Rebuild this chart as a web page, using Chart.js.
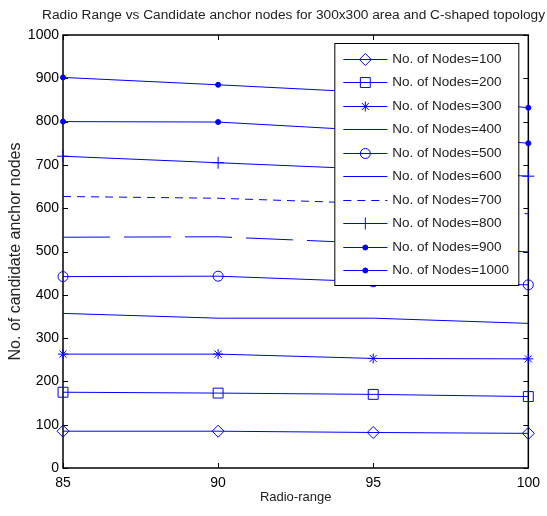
<!DOCTYPE html>
<html>
<head>
<meta charset="utf-8">
<script src="https://cdn.jsdelivr.net/npm/chart.js@4.4.1/dist/chart.umd.min.js"></script>
<style>
  html, body { margin: 0; padding: 0; background: #fff; }
</style>
</head>
<body>
<canvas id="rangeChart" width="547" height="516"></canvas>
<script>
// data
const radioRange = [85, 90, 95, 100];
const nodes100 = [85, 85, 82, 80];
const nodes200 = [175, 173, 170, 165];
const nodes300 = [263, 263, 253, 252];
const nodes400 = [357, 346, 346, 334];
const nodes500 = [442, 443, 430, 423];
const nodes600 = [533, 534, 519, 499];
const nodes700 = [627, 623, 611, 587];
const nodes800 = [720, 705, 690, 674];
const nodes900 = [800, 799, 779, 750];
const nodes1000 = [902, 885, 867, 832];
const xTicks = [85, 90, 95, 100];
const yTicks = [0, 100, 200, 300, 400, 500, 600, 700, 800, 900, 1000];

const BLUE = '#0000ff';
Chart.defaults.font.family = "'Liberation Sans', Arial, sans-serif";
Chart.defaults.color = '#000';

function series(label, values, marker) {
    return Object.assign({
        label: label,
        data: radioRange.map((x, i) => ({ x: x, y: values[i] })),
        borderColor: BLUE,
        borderWidth: 1,
        pointBorderColor: BLUE,
        pointBackgroundColor: 'rgba(0,0,0,0)',
        pointBorderWidth: 1,
        pointRadius: 0,
        pointHoverRadius: 0,
        tension: 0,
        clip: false
    }, marker);
}

const datasets = [
    series('No. of Nodes=100', nodes100, { pointStyle: 'rectRot', pointRadius: 6 }),
    series('No. of Nodes=200', nodes200, { pointStyle: 'rect', pointRadius: 7 }),
    series('No. of Nodes=300', nodes300, { pointStyle: 'star', pointRadius: 5 }),
    series('No. of Nodes=400', nodes400, {}),
    series('No. of Nodes=500', nodes500, { pointStyle: 'circle', pointRadius: 5 }),
    series('No. of Nodes=600', nodes600, { borderDash: [47, 14] }),
    series('No. of Nodes=700', nodes700, { borderDash: [8, 6] }),
    series('No. of Nodes=800', nodes800, { pointStyle: 'cross', pointRadius: 6 }),
    series('No. of Nodes=900', nodes900, { pointStyle: 'circle', pointRadius: 2.5, pointBackgroundColor: BLUE }),
    series('No. of Nodes=1000', nodes1000, { pointStyle: 'circle', pointRadius: 2.5, pointBackgroundColor: BLUE })
];

// box round the plot, inward ticks, and the legend inside the plot
const matlabFrame = {
    id: 'matlabFrame',
    beforeDatasetsDraw(chart) {
        const { ctx, chartArea: a, scales } = chart;
        ctx.save();
        ctx.strokeStyle = '#000';
        ctx.lineWidth = 1;
        ctx.beginPath();
        xTicks.forEach(v => {
            const px = Math.round(scales.x.getPixelForValue(v)) + 0.5;
            ctx.moveTo(px, a.bottom); ctx.lineTo(px, a.bottom - 5);
            ctx.moveTo(px, a.top); ctx.lineTo(px, a.top + 5);
        });
        yTicks.forEach(v => {
            const py = Math.round(scales.y.getPixelForValue(v)) + 0.5;
            ctx.moveTo(a.left, py); ctx.lineTo(a.left + 5, py);
            ctx.moveTo(a.right, py); ctx.lineTo(a.right - 5, py);
        });
        ctx.stroke();
        ctx.lineWidth = 1.5;
        ctx.strokeRect(a.left, a.top, a.right - a.left, a.bottom - a.top);
        ctx.restore();
    },
    afterDraw(chart) {
        const { ctx, chartArea: a } = chart;
        const w = 184, h = 242;
        const lx = a.right - 10 - w, ly = a.top + 8;
        ctx.save();
        ctx.fillStyle = '#fff';
        ctx.fillRect(lx, ly, w, h);
        ctx.strokeStyle = '#000';
        ctx.lineWidth = 1;
        ctx.strokeRect(lx + 0.5, ly + 0.5, w, h);
        chart.data.datasets.forEach((ds, i) => {
            const y = Math.round(ly + 15.5 + i * 23.5) + 0.5;
            ctx.strokeStyle = ds.borderColor;
            ctx.lineWidth = 1;
            ctx.setLineDash(ds.borderDash || []);
            ctx.beginPath();
            ctx.moveTo(lx + 9, y);
            ctx.lineTo(lx + 53, y);
            ctx.stroke();
            ctx.setLineDash([]);
            if (ds.pointRadius > 0) {
                ctx.fillStyle = ds.pointBackgroundColor;
                ctx.strokeStyle = ds.pointBorderColor;
                Chart.helpers.drawPoint(ctx, {
                    pointStyle: ds.pointStyle,
                    radius: ds.pointRadius,
                    rotation: 0,
                    borderWidth: 1
                }, lx + 31, y);
            }
            ctx.fillStyle = '#222';
            ctx.font = "13.5px 'Liberation Sans', Arial, sans-serif";
            ctx.textBaseline = 'middle';
            ctx.textAlign = 'left';
            ctx.fillText(ds.label, lx + 58, y);
        });
        ctx.restore();
    }
};

const config = {
    type: 'line',
    data: { datasets: datasets },
    options: {
        responsive: false,
        animation: false,
        events: [],
        layout: { padding: { left: 0, right: 2, top: 0, bottom: 0 } },
        plugins: {
            legend: { display: false },
            tooltip: { enabled: false },
            title: {
                display: true,
                align: 'end',
                text: 'Radio Range vs Candidate anchor nodes for 300x300 area and C-shaped topology',
                font: { size: 13.7, weight: 'normal' },
                color: '#222',
                padding: { top: 6.9, bottom: 11.66 }
            }
        },
        scales: {
            x: {
                type: 'linear',
                min: 85,
                max: 100,
                afterFit: s => { s.height = 48; },
                afterBuildTicks: s => { s.ticks = xTicks.map(v => ({ value: v })); },
                ticks: { font: { size: 14 }, color: '#000', padding: 7, callback: v => String(v) },
                grid: { display: false, drawTicks: false },
                border: { display: false },
                title: { display: true, text: 'Radio-range', font: { size: 13 }, color: '#222', padding: { top: 2, bottom: 11 } }
            },
            y: {
                min: 0,
                max: 1000,
                afterFit: s => { s.width = 63; },
                afterBuildTicks: s => { s.ticks = yTicks.map(v => ({ value: v })); },
                ticks: { font: { size: 14 }, color: '#000', padding: 4, callback: v => String(v) },
                grid: { display: false, drawTicks: false },
                border: { display: false },
                title: { display: true, text: 'No. of candidate anchor nodes', font: { size: 16 }, color: '#222', padding: { top: 5.5, bottom: 0 } }
            },
            // empty right-hand strip so the plot box ends where the figure's does
            yRight: {
                position: 'right',
                afterFit: s => { s.width = 14; },
                ticks: { display: false },
                grid: { display: false, drawTicks: false },
                border: { display: false }
            }
        }
    },
    plugins: [matlabFrame]
};

new Chart(document.getElementById('rangeChart').getContext('2d'), config);
</script>
</body>
</html>
